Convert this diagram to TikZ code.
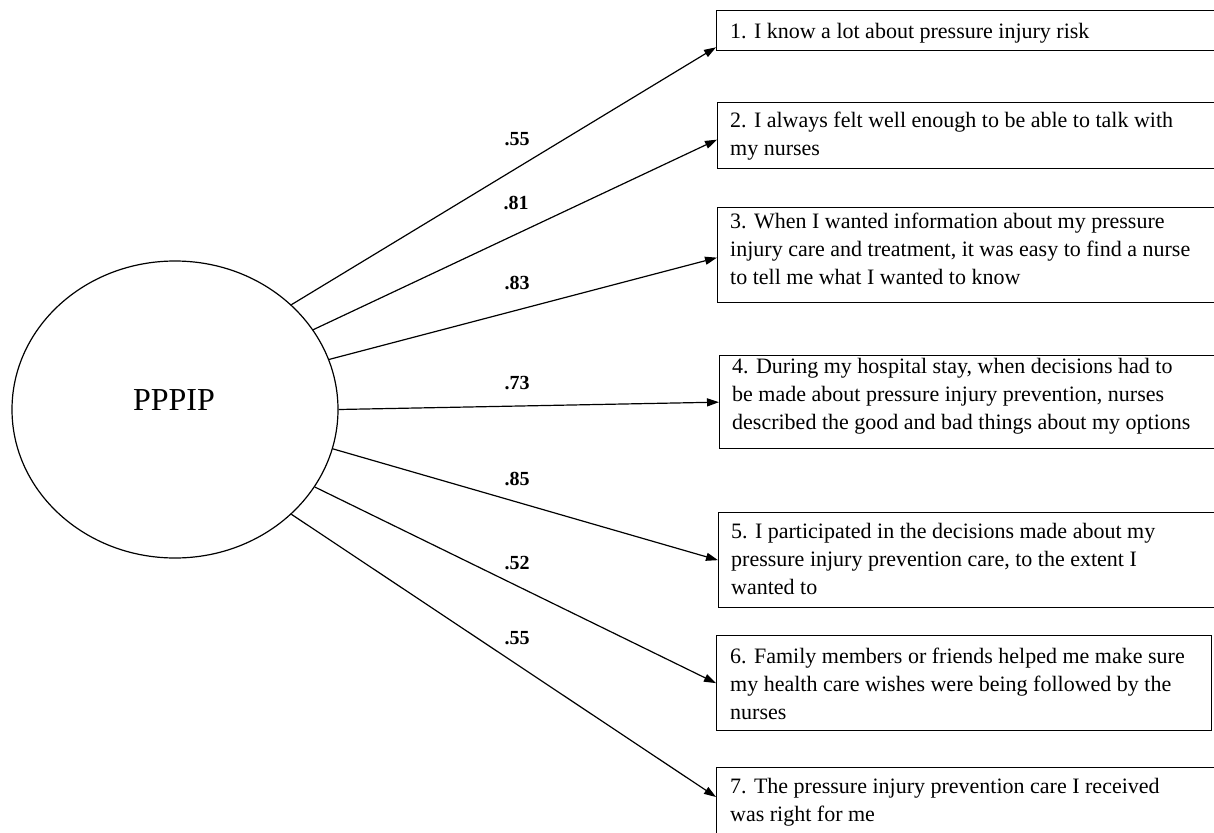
\documentclass[tikz,border=0pt]{standalone}
\usepackage{fontspec}
\setmainfont{Liberation Serif}
\usetikzlibrary{arrows.meta,shapes.geometric,calc}
\begin{document}
\begin{tikzpicture}[x=1pt,y=-1pt,
  itembox/.style={draw, line width=1.3pt, rectangle, anchor=north west, inner sep=0pt},
  itemtext/.style={anchor=north west, align=left, inner sep=0pt, font=\fontsize{22}{28}\selectfont},
  weight/.style={font=\fontsize{20}{24}\selectfont\bfseries, inner sep=0pt},
  arr/.style={line width=1.2pt, -{Triangle[length=12pt,width=8pt]}}]
\useasboundingbox (0,0) rectangle (1214,832);
% latent variable
\node[draw, ellipse, line width=1.2pt, minimum width=326pt, minimum height=297pt, inner sep=0pt] (e) at (175,409.5) {};
\node[font=\fontsize{32}{36}\selectfont, inner sep=0pt] (lbl) at (174,400) {PPPIP};
% item boxes
\node[itembox, minimum width=504pt, minimum height=40pt] (b1) at (716,10) {};
\node[itembox, minimum width=503pt, minimum height=66pt] (b2) at (717,102) {};
\node[itembox, minimum width=503pt, minimum height=95pt] (b3) at (717,207) {};
\node[itembox, minimum width=501pt, minimum height=93pt] (b4) at (719,355) {};
\node[itembox, minimum width=502pt, minimum height=95pt] (b5) at (718,512) {};
\node[itembox, minimum width=495pt, minimum height=95pt] (b6) at (716,635) {};
\node[itembox, minimum width=504pt, minimum height=80pt] (b7) at (716,767) {};
% texts
\node[itemtext] (t1) at ($(b1.north west)+(14,13)$) {1. I know a lot about pressure injury risk};
\node[itemtext] (t2) at ($(b2.north west)+(13,10)$) {2. I always felt well enough to be able to talk with\\my nurses};
\node[itemtext] (t3) at ($(b3.north west)+(13,6)$) {3. When I wanted information about my pressure\\injury care and treatment, it was easy to find a nurse\\to tell me what I wanted to know};
\node[itemtext] (t4) at ($(b4.north west)+(13,3)$) {4. During my hospital stay, when decisions had to\\be made about pressure injury prevention, nurses\\described the good and bad things about my options};
\node[itemtext] (t5) at ($(b5.north west)+(13,11)$) {5. I participated in the decisions made about my\\pressure injury prevention care, to the extent I\\wanted to};
\node[itemtext] (t6) at ($(b6.north west)+(14,13)$) {6. Family members or friends helped me make sure\\my health care wishes were being followed by the\\nurses};
\node[itemtext] (t7) at ($(b7.north west)+(14,11)$) {7. The pressure injury prevention care I received\\was right for me};
% arrows
\draw[arr] (e.42.3) -- ($(b1.south west)+(0,-4)$);
\draw[arr] (e.30.7) -- ($(b2.west)+(0,4)$);
\draw[arr] (e.18.5) -- ($(b3.west)+(0,2.5)$);
\draw[arr] (e.0) -- (b4.west);
\draw[arr] (e.-14.8) -- (b5.west);
\draw[arr] (e.-29.8) -- (b6.west);
\draw[arr] (e.-42.8) -- ($(b7.north west)+(0,30)$);
% loadings
\node[weight] (w1) at (517,139) {.55};
\node[weight] (w2) at (516,203) {.81};
\node[weight] (w3) at (517,283) {.83};
\node[weight] (w4) at (517,383) {.73};
\node[weight] (w5) at (517,479) {.85};
\node[weight] (w6) at (517,563) {.52};
\node[weight] (w7) at (517,638) {.55};
\end{tikzpicture}
\end{document}
